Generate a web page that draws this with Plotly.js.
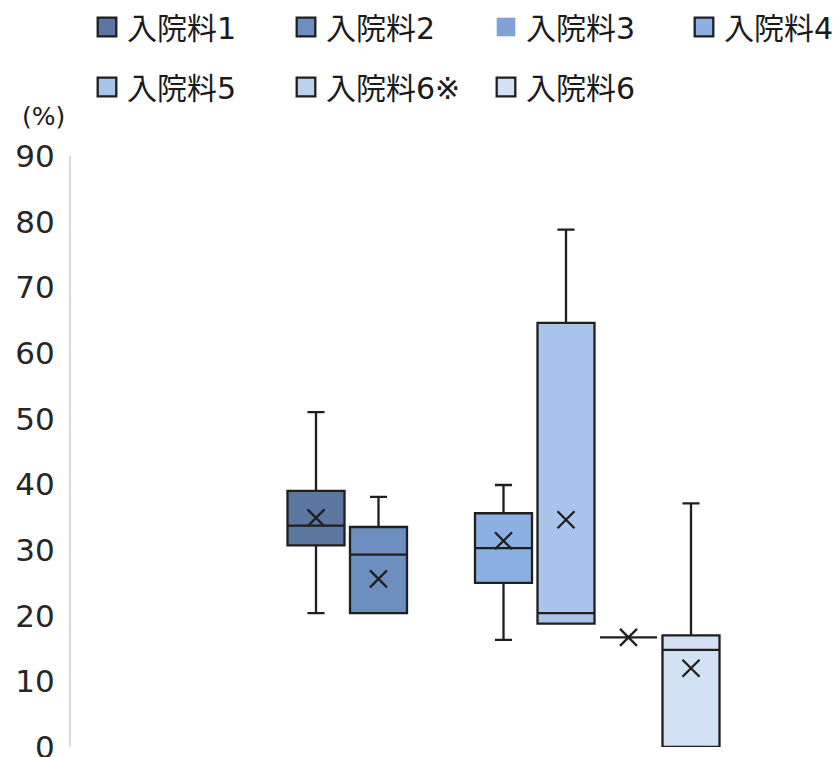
<!DOCTYPE html>
<html>
<head>
<meta charset="utf-8">
<script src="https://cdn.plot.ly/plotly-3.0.1.min.js"></script>
<style>
  html, body { margin: 0; padding: 0; background: #ffffff; }
  #chart { width: 839px; height: 757px; }
  /* larger legend swatches */
  #chart path.legendbox {
    transform: translate(20px, 0px) scale(1.55);
    vector-effect: non-scaling-stroke;
  }
</style>
</head>
<body>
<div id="chart"></div>
<script>
// Ward categories (入院料) and five-number summaries, in percent
const categories   = ['入院料1', '入院料2', '入院料3', '入院料4', '入院料5', '入院料6※', '入院料6'];
const upperWhisker = [51.0, 38.1, null, 39.9, 78.8, 16.7, 37.1];
const q3Values     = [39.0, 33.5, null, 35.6, 64.6, 16.7, 17.0];
const medianValues = [33.7, 29.3, null, 30.3, 20.4, 16.7, 14.8];
const q1Values     = [30.7, 20.4, null, 25.0, 18.8, 16.7, 0.0];
const lowerWhisker = [20.4, 20.4, null, 16.3, 18.8, 16.7, 0.0];
const meanValues   = [34.9, 25.6, null, 31.4, 34.6, 16.7, 12.0];
const yTicks       = [0, 10, 20, 30, 40, 50, 60, 70, 80, 90];

const fillColors = ['#5b77a0', '#6d8fbf', '#7fa3d6', '#8cb0e2', '#a9c3eb', '#bdd0f0', '#d3e1f4'];
const edgeColor = '#1f1f1f';
const latinCjk = '"DejaVu Sans", "Noto Sans CJK JP", sans-serif';

const positions = categories.map((_, i) => i + 1);

// legend grid: four columns, two rows (pixel centres of the swatches)
const legendColX = [106, 305, 505, 703];
const legendRowY = [27, 87];
const W = 839, H = 757;

const legendKey = i => (i === 0 ? 'legend' : 'legend' + (i + 1));

const traces = categories.map((name, i) => {
  const hasData = q1Values[i] !== null;
  const t = {
    type: 'box',
    name: name,
    legend: legendKey(i),
    fillcolor: fillColors[i],
    line: { color: edgeColor, width: hasData ? 2.3 : 0 },
    width: 0.912,
    whiskerwidth: 0.3,
    boxpoints: false,
    hoverinfo: 'skip'
  };
  t.x = [positions[i]];
  if (hasData) {
    t.q1 = [q1Values[i]];
    t.median = [medianValues[i]];
    t.q3 = [q3Values[i]];
    t.lowerfence = [lowerWhisker[i]];
    t.upperfence = [upperWhisker[i]];
  } else {
    // no observations for this category: legend entry only
    t.y = [null];
  }
  return t;
});

// mean markers drawn as crosses
traces.push({
  type: 'scatter',
  mode: 'markers',
  x: positions,
  y: meanValues,
  showlegend: false,
  hoverinfo: 'skip',
  marker: { symbol: 'x-thin', size: 17, line: { width: 2.3, color: edgeColor }, color: edgeColor }
});

const layout = {
  width: W,
  height: H,
  paper_bgcolor: '#ffffff',
  plot_bgcolor: '#ffffff',
  margin: { l: 71, r: 59, t: 156.4, b: 10 },
  showlegend: true,
  boxmode: 'overlay',
  xaxis: {
    type: 'linear',
    range: [-2.92, 8.424],
    visible: false,
    fixedrange: true
  },
  yaxis: {
    range: [0, 90],
    tickvals: yTicks,
    ticktext: yTicks.map(String),
    showline: true,
    linecolor: '#d9d9d9',
    linewidth: 2,
    showgrid: false,
    zeroline: false,
    ticks: '',
    ticklabelstandoff: 8,
    ticklabeloverflow: 'allow',
    tickfont: { size: 31, family: latinCjk, color: '#262626' },
    automargin: false,
    fixedrange: true
  },
  annotations: [{
    text: '(%)',
    xref: 'paper', yref: 'paper',
    x: (43 - 71) / 709, y: (747 - 117) / 590.6,
    xanchor: 'center', yanchor: 'middle',
    showarrow: false,
    font: { size: 25, family: latinCjk, color: '#1a1a1a' }
  }]
};

categories.forEach((_, i) => {
  const col = i % 4, row = Math.floor(i / 4);
  layout[legendKey(i)] = {
    orientation: 'h',
    xref: 'container',
    yref: 'container',
    xanchor: 'left',
    yanchor: 'middle',
    x: (legendColX[col] - 19) / W,
    y: 1 - legendRowY[row] / H,
    font: { size: 30, family: latinCjk, color: '#1a1a1a' },
    bgcolor: 'rgba(0,0,0,0)',
    itemclick: false,
    itemdoubleclick: false
  };
});

Plotly.newPlot('chart', traces, layout, { staticPlot: true, displayModeBar: false });
</script>
</body>
</html>
